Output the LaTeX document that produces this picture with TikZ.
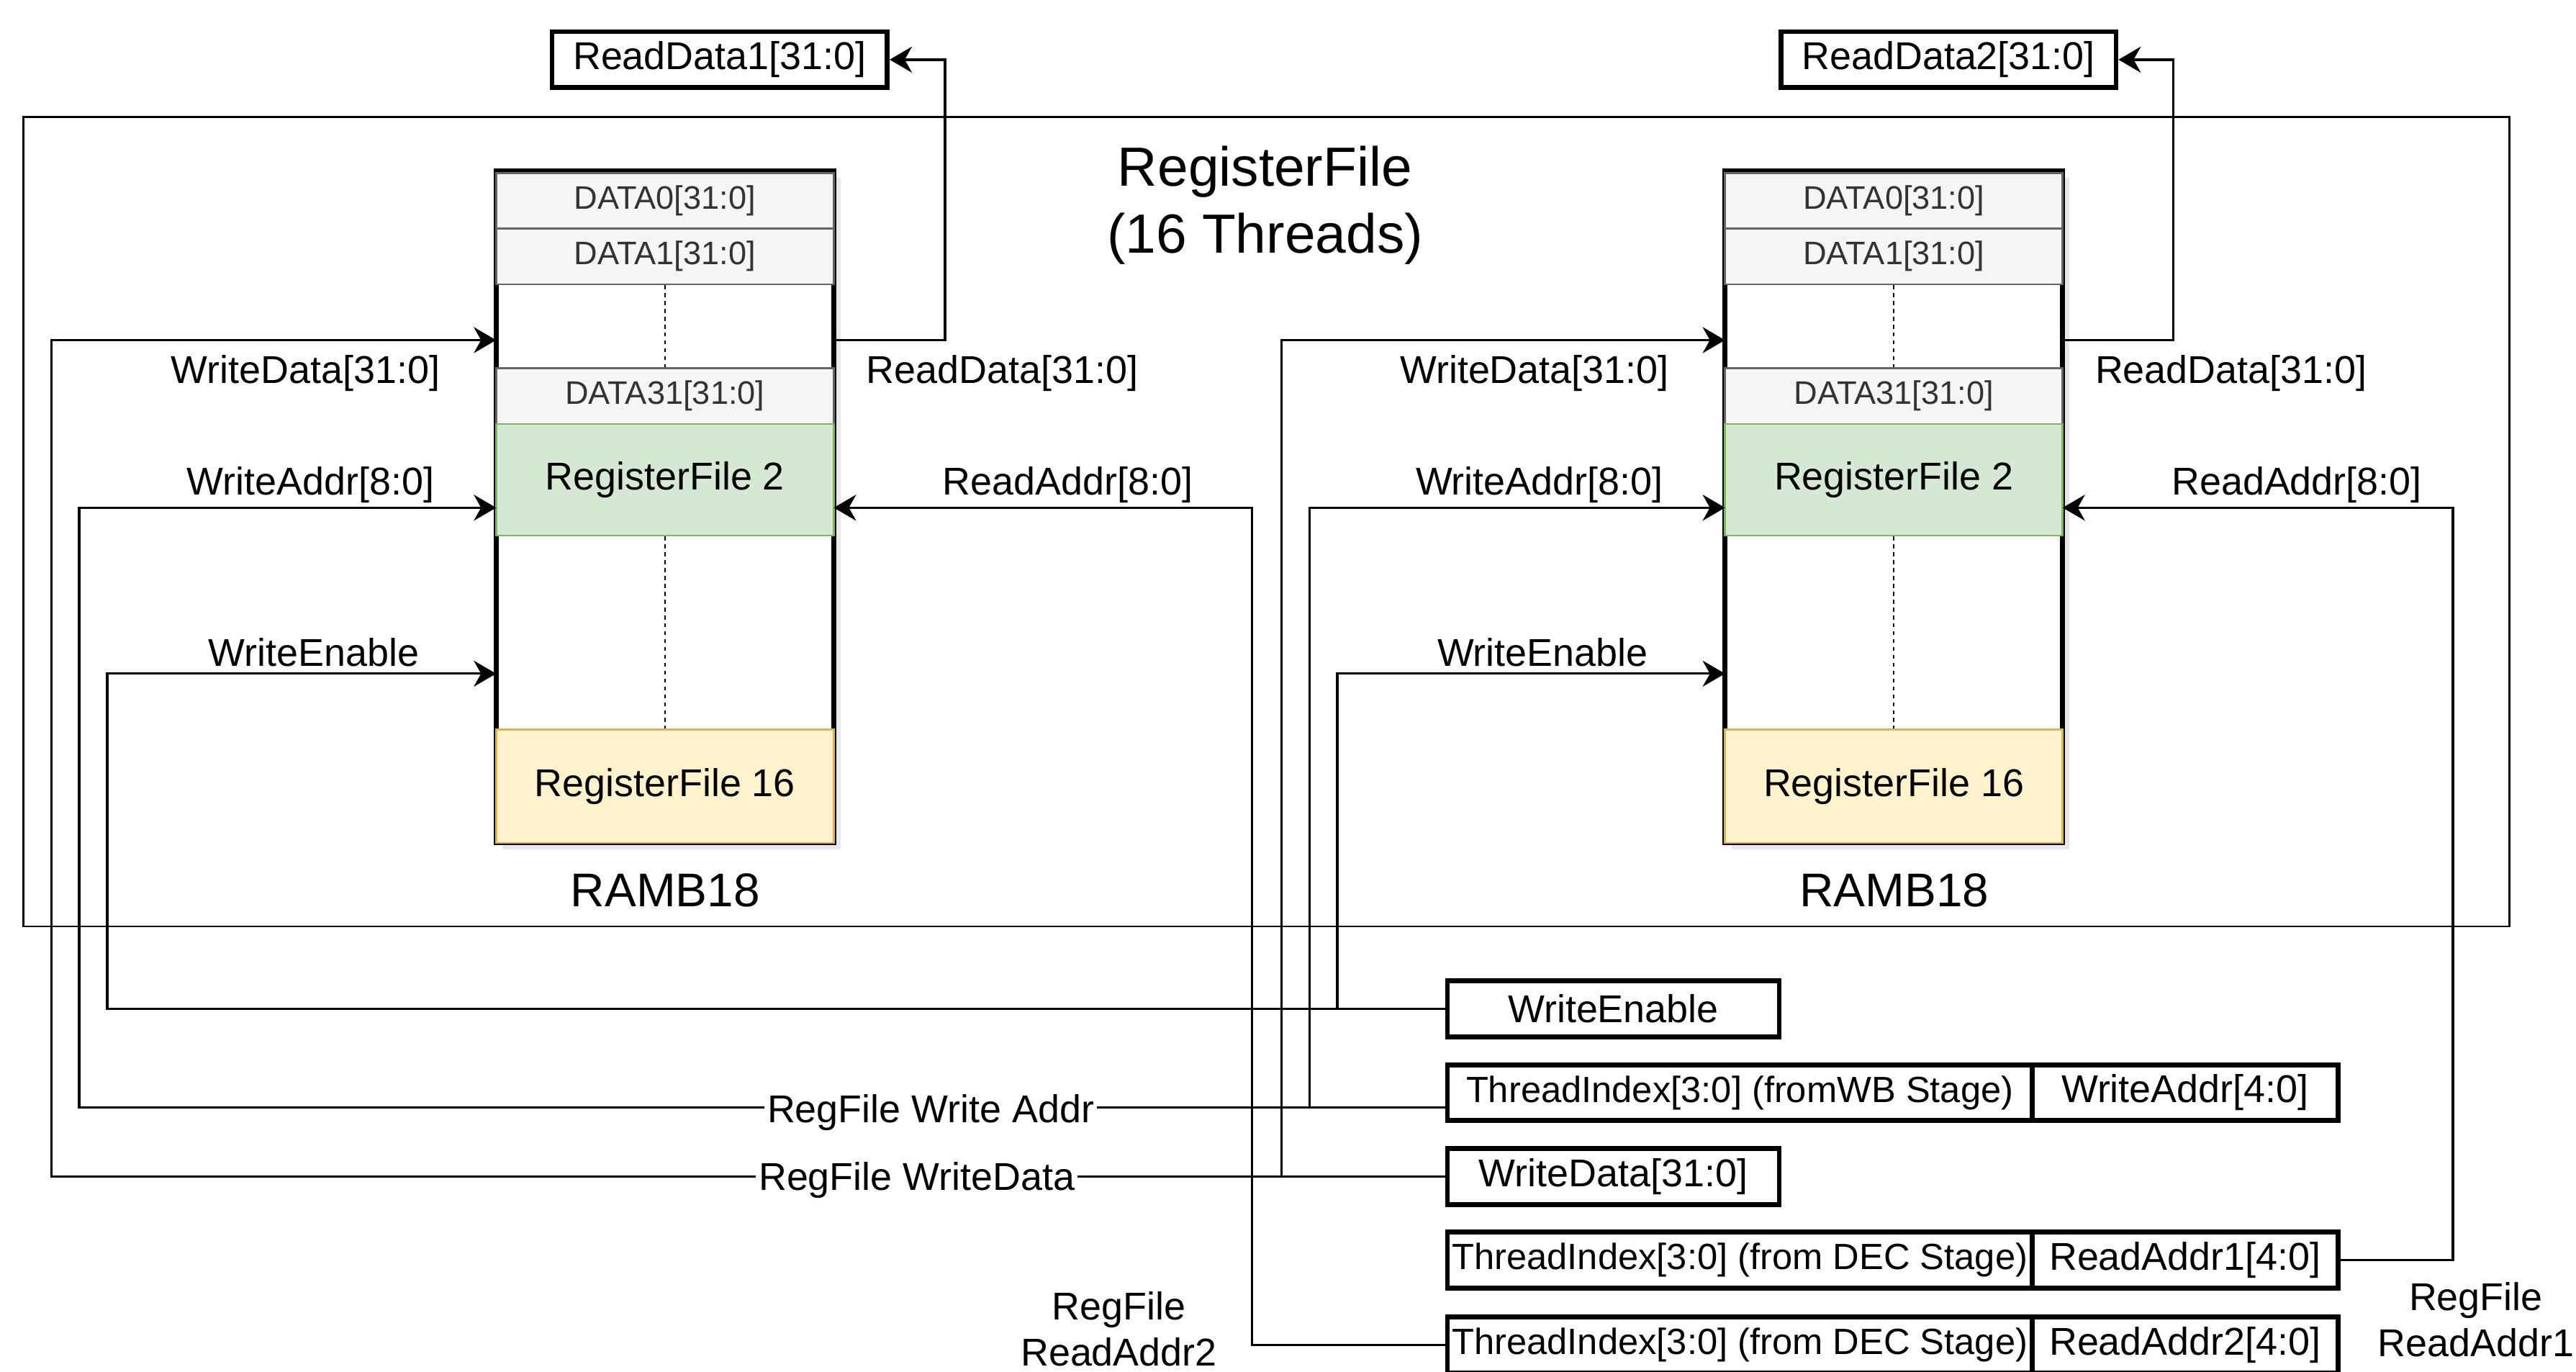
\documentclass[tikz,border=0pt]{standalone}
\usepackage{fontspec}
\setmainfont{Liberation Sans}
\usetikzlibrary{arrows.meta,shadows,calc}
\definecolor{cellfill}{HTML}{F5F5F5}
\definecolor{cellline}{HTML}{666666}
\definecolor{celltext}{HTML}{333333}
\definecolor{gfill}{HTML}{D5E8D4}
\definecolor{gline}{HTML}{82B366}
\definecolor{yfill}{HTML}{FFF2CC}
\definecolor{yline}{HTML}{D6B656}

\newcommand\rambblk[1]{%
  \path[fill=white, drop shadow={shadow xshift=2pt, shadow yshift=-2pt, opacity=0.18}] (302,104) rectangle (507.5,513);
  \draw[line width=1.45pt] (302,104) rectangle (507.5,513);
  \node[dcell] (#1-d0) at (404.75,122.25) {DATA0[31:0]};
  \node[dcell] (#1-d1) at (404.75,156) {DATA1[31:0]};
  \node[dcell] (#1-d31) at (404.75,241) {DATA31[31:0]};
  \node[rfcell, fill=gfill, draw=gline, minimum height=34pt] (#1-rf2) at (404.75,292) {RegisterFile 2};
  \node[rfcell, fill=yfill, draw=yline, minimum height=34.5pt] (#1-rf16) at (404.75,478.5) {RegisterFile 16};
  \draw[dotline] (#1-d1.south) -- (#1-d31.north);
  \draw[dotline] (#1-rf2.south) -- (#1-rf16.north);
  \node[font=\fontsize{14.4}{17}\selectfont, yshift=-1pt] (#1-name) at (405,540) {RAMB18};
  \coordinate (#1-wdin) at (302,207);
  \coordinate (#1-wain) at (302,309);
  \coordinate (#1-wein) at (302,410);
  \coordinate (#1-rain) at (507.5,309);
  \coordinate (#1-rdout) at (507.5,207);
  \node[lbl] (#1-lwd) at (186,225) {WriteData[31:0]};
  \node[lbl] (#1-lwa) at (189,293) {WriteAddr[8:0]};
  \node[lbl] (#1-lwe) at (191,395) {WriteEnable};
  \node[lbl] (#1-lrd) at (610,225) {ReadData[31:0]};
  \node[lbl] (#1-lra) at (650,293) {ReadAddr[8:0]};
}

\begin{document}
\begin{tikzpicture}[x=0.5pt,y=-0.5pt,
  conn/.style={line width=0.72pt},
  arr/.style={conn,-{Stealth[length=6.8pt,width=7.9pt,inset=2.2pt]}},
  lbl/.style={font=\fontsize{11.8}{14}\selectfont, inner sep=1pt, yshift=-1pt},
  onlinelbl/.style={lbl, fill=white, inner sep=0.8pt, yshift=0pt},
  iobox/.style={draw, line width=1.5pt, fill=white, inner sep=0pt, minimum height=17pt, font=\fontsize{11.8}{14}\selectfont},
  tibox/.style={iobox, font=\fontsize{11.1}{13}\selectfont, minimum width=178pt},
  rabox/.style={iobox, minimum width=93pt},
  dcell/.style={draw=cellline, fill=cellfill, text=celltext, line width=0.6pt, minimum width=102.75pt, minimum height=17pt, inner sep=0pt, font=\fontsize{9.9}{12}\selectfont},
  rfcell/.style={line width=0.6pt, minimum width=102.75pt, inner sep=0pt, font=\fontsize{11.8}{14}\selectfont},
  dotline/.style={line width=0.5pt, dash pattern=on 1.2pt off 1.2pt},
]
\useasboundingbox (0,0) rectangle (1568,835);
\fill[white] (0,0) rectangle (1568,835);

% outer register file frame
\draw[line width=0.6pt] (14.3,71.1) rectangle (1527.3,563.8);
\node[font=\fontsize{16.8}{20.5}\selectfont, align=center] (title) at (770,125) {RegisterFile\\(16 Threads)};

% output boxes
\node[iobox, minimum width=102pt] (rd1) at (438,36.3) {ReadData1[31:0]};
\node[iobox, minimum width=102pt] (rd2) at (1186,36.3) {ReadData2[31:0]};

% the two RAMB18 blocks
\rambblk{L}
\begin{scope}[xshift=374pt]
\rambblk{R}
\end{scope}

% input boxes
\node[iobox, minimum width=101pt] (webox) at (982,614) {WriteEnable};
\node[tibox] (tiwb) at (1059,665) {ThreadIndex[3:0] (fromWB Stage)};
\node[rabox] (wabox) at (1330,665) {WriteAddr[4:0]};
\node[iobox, minimum width=101pt] (wdbox) at (982,716) {WriteData[31:0]};
\node[tibox] (ti1) at (1059,767) {ThreadIndex[3:0] (from DEC Stage)};
\node[rabox] (ra1) at (1330,767) {ReadAddr1[4:0]};
\node[tibox] (ti2) at (1059,818.5) {ThreadIndex[3:0] (from DEC Stage)};
\node[rabox] (ra2) at (1330,818.5) {ReadAddr2[4:0]};

% connectors to the left block
\draw[arr] (wdbox.west) -| (31.3,207) -- (L-wdin);
\draw[arr] ([yshift=-4.5pt]tiwb.west) -| (48.2,309) -- (L-wain);
\draw[arr] (webox.west) -| (65.3,410) -- (L-wein);
\draw[arr] (ti2.west) -| (762,309) -- (L-rain);
\draw[arr] (L-rdout) -| (575.2,36.3) -- (rd1.east);

% connectors to the right block
\draw[arr] (wdbox.west) -| (780,207) -- (R-wdin);
\draw[arr] ([yshift=-4.5pt]tiwb.west) -| (797,309) -- (R-wain);
\draw[arr] (webox.west) -| (814,410) -- (R-wein);
\draw[arr] (ra1.east) -| (1493,309) -- (R-rain);
\draw[arr] (R-rdout) -| (1323,36.3) -- (rd2.east);

% labels on the buses
\node[onlinelbl] (lwaddr) at (566.5,675) {RegFile Write Addr};
\node[onlinelbl] (lwdata) at (558,716.5) {RegFile WriteData};
\node[lbl, align=center, yshift=1pt] (lra2) at (681,809) {RegFile\\ReadAddr2};
\node[lbl, align=center, yshift=1pt] (lra1) at (1507,803) {RegFile\\ReadAddr1};
\end{tikzpicture}
\end{document}
